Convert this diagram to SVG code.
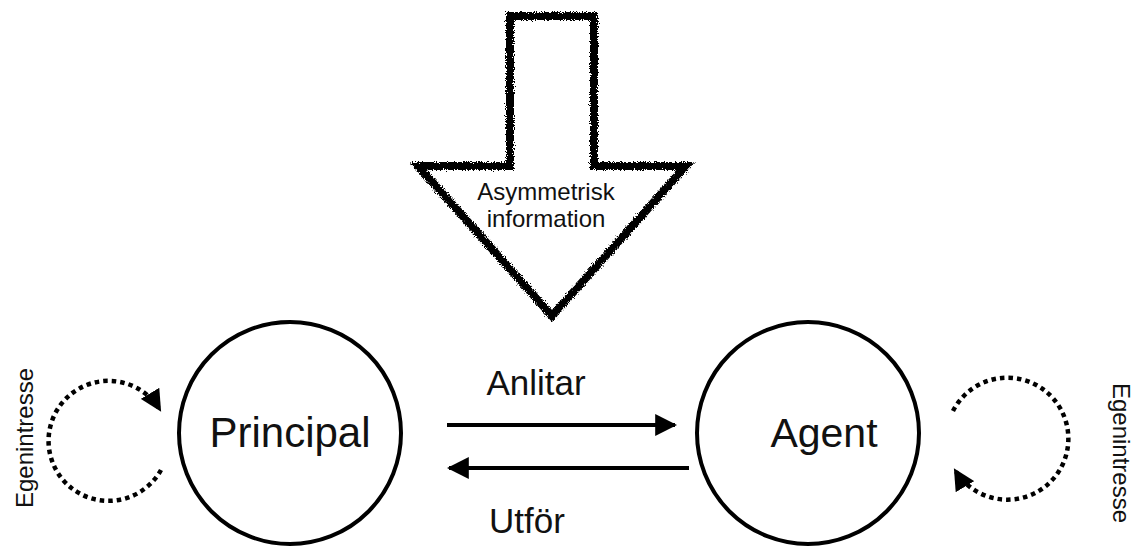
<svg xmlns="http://www.w3.org/2000/svg" width="1137" height="560" viewBox="0 0 1137 560">
<style>
text{font-family:"Liberation Sans",Arial,sans-serif;fill:#111}
.node{fill:none;stroke:#000;stroke-width:4}
.conn{stroke:#000;stroke-width:4;fill:none}
.dot{stroke:#000;stroke-width:4.5;fill:none;stroke-dasharray:4.5 4}
</style>
<defs>
<filter id="rough" x="-10%" y="-10%" width="120%" height="120%">
<feTurbulence type="fractalNoise" baseFrequency="0.9" numOctaves="2" seed="3" result="n"/>
<feDisplacementMap in="SourceGraphic" in2="n" scale="6" xChannelSelector="R" yChannelSelector="G"/>
</filter>
<marker id="ah" viewBox="0 0 10 10" refX="9" refY="5" markerWidth="5.5" markerHeight="5.5" orient="auto" markerUnits="strokeWidth">
<path d="M0,0 L10,5 L0,10 z" fill="#000"/>
</marker>
<marker id="ahd" viewBox="0 0 10 10" refX="9" refY="5" markerWidth="4.8" markerHeight="4.8" orient="auto" markerUnits="strokeWidth">
<path d="M0,0 L10,5 L0,10 z" fill="#000"/>
</marker>
</defs>
<rect width="1137" height="560" fill="#fff"/>
<g id="asym">
<path d="M510,16 L594,16 L594,166 L686,166 L552,316 L418,166 L510,166 Z" fill="none" stroke="#000" stroke-width="8" stroke-linejoin="miter" filter="url(#rough)"/>
<text x="546" y="200" font-size="24" text-anchor="middle">Asymmetrisk</text>
<text x="546" y="227" font-size="24" text-anchor="middle">information</text>
</g>
<g id="principal">
<circle class="node" cx="290" cy="433" r="111"/>
<text x="290" y="447" font-size="42" text-anchor="middle">Principal</text>
</g>
<g id="agent">
<circle class="node" cx="808" cy="433" r="111"/>
<text x="824" y="447" font-size="41" text-anchor="middle">Agent</text>
</g>
<g id="connectors">
<line class="conn" x1="447" y1="425" x2="675" y2="425" marker-end="url(#ah)"/>
<line class="conn" x1="689" y1="468" x2="449" y2="468" marker-end="url(#ah)"/>
<path class="dot" d="M161,470 A60,60 0 1 1 160,410" marker-end="url(#ahd)"/>
<path class="dot" d="M953,411 A61,61 0 1 1 955,470" marker-end="url(#ahd)"/>
</g>
<g id="labels">
<text x="536" y="395" font-size="35" text-anchor="middle">Anlitar</text>
<text x="527" y="533" font-size="35" text-anchor="middle">Utför</text>
<text transform="translate(33,438) rotate(-90)" font-size="24" text-anchor="middle">Egenintresse</text>
<text transform="translate(1113,453) rotate(90)" font-size="24" text-anchor="middle">Egenintresse</text>
</g>
</svg>
